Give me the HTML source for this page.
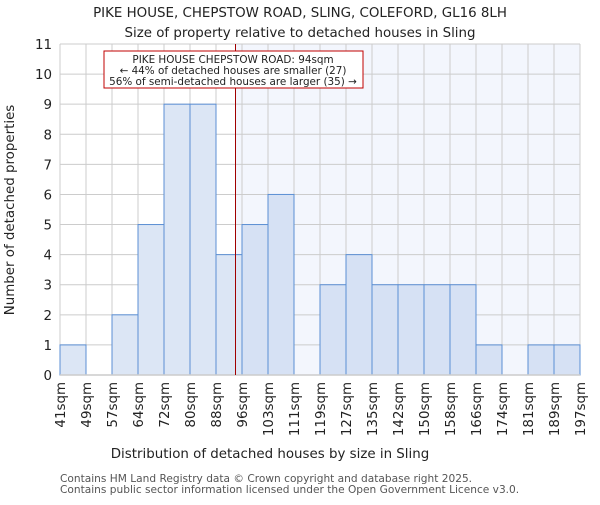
<!DOCTYPE html>
<html><head><meta charset="utf-8"><style>
body{margin:0;background:#fff}
svg text{font-family:"DejaVu Sans","Liberation Sans",sans-serif;fill:#222}
</style></head><body>
<svg id="c" width="600" height="500">
<text x="300" y="17" font-size="13.4" text-anchor="middle">PIKE HOUSE, CHEPSTOW ROAD, SLING, COLEFORD, GL16 8LH</text>
<text x="300" y="37" font-size="13.4" text-anchor="middle">Size of property relative to detached houses in Sling</text>
<g id="plot"></g>
<text x="270" y="458" font-size="13.4" text-anchor="middle">Distribution of detached houses by size in Sling</text>
<text transform="translate(14,210) rotate(-90)" font-size="13.4" text-anchor="middle">Number of detached properties</text>
<text x="60" y="482" font-size="10.6" style="fill:#555">Contains HM Land Registry data © Crown copyright and database right 2025.</text>
<text x="60" y="493" font-size="10.6" style="fill:#555">Contains public sector information licensed under the Open Government Licence v3.0.</text>
</svg>
<script>
const labels=["41sqm","49sqm","57sqm","64sqm","72sqm","80sqm","88sqm","96sqm","103sqm","111sqm","119sqm","127sqm","135sqm","142sqm","150sqm","158sqm","166sqm","174sqm","181sqm","189sqm","197sqm"];
const counts=[1,0,2,5,9,9,4,5,6,0,3,4,3,3,3,3,1,0,1,1];
const yTicks=[0,1,2,3,4,5,6,7,8,9,10,11];
const markerBin=6.75;
const X0=60,X1=580,Y0=375,Y1=44,YMAX=11;
const bw=(X1-X0)/counts.length;
const x=i=>X0+i*bw, y=v=>Y0-(Y0-Y1)*v/YMAX;
const g=document.getElementById('plot');const NS="http://www.w3.org/2000/svg";
function mk(t,a){const e=document.createElementNS(NS,t);for(const k in a)e.setAttribute(k,a[k]);g.appendChild(e);return e;}
const mx=x(markerBin);
let e=mk('rect',{x:mx,y:Y1,width:X1-mx,height:Y0-Y1,fill:'#f3f6fd'});


yTicks.forEach(t=>{let l=mk('line',{x1:X0,x2:X1,y1:y(t),y2:y(t),stroke:'#ccc'});


let tx=mk('text',{x:X0-8,y:y(t)+5,'font-size':13.4,'text-anchor':'end'});tx.textContent=t;

});
labels.forEach((s,i)=>{let l=mk('line',{x1:x(i),x2:x(i),y1:Y1,y2:Y0,stroke:'#ccc'});


let tx=mk('text',{transform:`translate(${x(i)+5},382) rotate(-90)`,'font-size':13.4,'text-anchor':'end'});tx.textContent=s;

});
counts.forEach((v,i)=>{if(!v)return;let r=mk('rect',{x:x(i),y:y(v),width:bw,height:Y0-y(v),fill:i>=markerBin?'#d6e1f4':'#dce6f5',stroke:'#5b8fd4','stroke-width':1});

});
e=mk('line',{x1:X0,x2:X1,y1:Y0,y2:Y0,stroke:'#ccc','stroke-width':1.5});


e=mk('line',{x1:mx,x2:mx,y1:Y1,y2:Y0,stroke:'#a00000','stroke-width':1});


e=mk('rect',{x:104,y:51,width:259,height:37,fill:'#fff',stroke:'#c00000','stroke-width':1});


["PIKE HOUSE CHEPSTOW ROAD: 94sqm","← 44% of detached houses are smaller (27)","56% of semi-detached houses are larger (35) →"].forEach((s,i)=>{let t=mk('text',{x:233,y:63+i*11,'font-size':10.4,'text-anchor':'middle'});t.textContent=s;

});
</script>
</body></html>
